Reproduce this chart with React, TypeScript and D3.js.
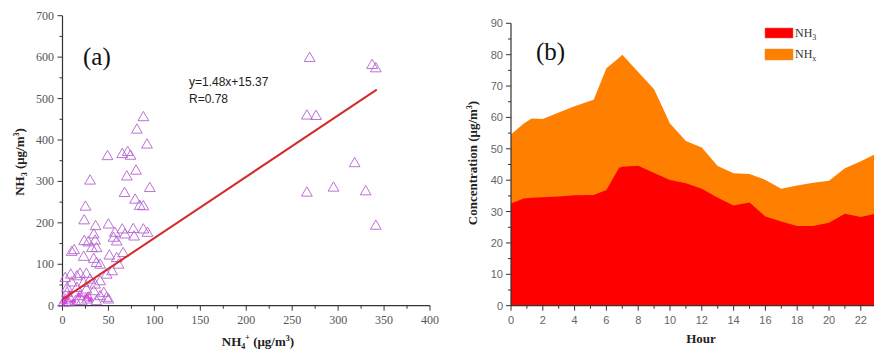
import React from "react";
import * as d3 from "d3";

// ---- Panel (a) data: NH4+ (x) vs NH3 (y)
const scatterX = [269, 337, 341, 266, 276, 318, 295, 266, 330, 341,
  88, 81, 92, 49, 65, 71, 74, 70, 80, 30, 95, 67.5, 79, 84, 88, 25, 23.6, 50, 36, 65, 77, 88, 92.5, 57, 68, 78, 55.5, 59, 34, 23.6, 28, 35.5, 32, 37, 10, 12.7, 66, 51, 59, 23, 34, 37, 61, 41, 54, 48, 9, 15.6, 26, 19, 3, 30, 41, 35.5, 23, 10, 5, 15.6, 26, 34, 45, 48, 41, 28, 19, 8, 3, 14, 5, 26.5, 50, 1, 6.5, 21, 37];
const scatterY = [597, 580, 572, 458, 457, 343, 284, 272, 275, 192,
  454, 424, 388, 360, 365, 370, 361, 311, 325, 301, 283, 271, 255, 240, 239, 238, 205, 195, 191, 183, 184, 183, 175, 175, 171, 166, 163, 154, 171, 155, 152, 156, 138, 138, 129, 133, 126, 120, 114, 117, 112, 102, 98, 98, 82, 74, 74, 70, 76, 76, 66, 62, 58, 50, 54, 55, 42, 42, 38, 34, 30, 18, 22, 19, 22, 18, 14, 10, 30, 14, 14, 6, 7, 10, 10];
const denseX = [26, 4.5, 12, 18, 8, 30, 2];
const denseY = [22, 18, 10, 25, 30, 15, 8];
const fitSlope = 1.48;
const fitIntercept = 15.37;
const fitRange = [0, 342];
const xTicksA = [0, 50, 100, 150, 200, 250, 300, 350, 400];
const yTicksA = [0, 100, 200, 300, 400, 500, 600, 700];

// ---- Panel (b) data: diurnal concentrations
const hours = [0, 0.8, 1.3, 2, 3, 4, 5, 5.2, 6, 6.8, 7, 8, 9, 10, 11, 12, 13, 14, 15, 16, 17, 18, 19, 20, 21, 22, 23];
const nhx = [54.6, 58.1, 59.7, 59.5, 61.6, 63.6, 65.3, 65.6, 75.7, 79.0, 80.0, 74.5, 69.0, 58.1, 52.5, 50.4, 44.5, 42.2, 42.0, 40.1, 37.3, 38.3, 39.2, 39.8, 43.8, 46.0, 48.5];
const nh3 = [32.6, 34.2, 34.4, 34.6, 34.8, 35.2, 35.3, 35.3, 36.9, 44.0, 44.3, 44.6, 42.3, 40.1, 39.0, 37.3, 34.4, 31.9, 32.9, 28.4, 26.8, 25.4, 25.4, 26.4, 29.3, 28.3, 29.4];
const xTicksB = [0, 2, 4, 6, 8, 10, 12, 14, 16, 18, 20, 22];
const yTicksB = [0, 10, 20, 30, 40, 50, 60, 70, 80, 90];

const serif = "'Liberation Serif', 'DejaVu Serif', serif";
const sans = "'Liberation Sans', Arial, sans-serif";

export default function App() {
  const xA = d3.scaleLinear().domain([0, 400]).range([62.5, 430]);
  const yA = d3.scaleLinear().domain([0, 700]).range([305.7, 15.7]);
  const xB = d3.scaleLinear().domain([0, 24]).range([511, 511 + 24 * 15.9]);
  const yB = d3.scaleLinear().domain([0, 90]).range([305.7, 23.3]);

  const tri = d3.symbol(d3.symbolTriangle, 50)();
  const areaTotal = d3.area<number>()
    .x((_, i) => xB(hours[i]))
    .y0(yB(0))
    .y1((d) => yB(d));

  const minorA_x = d3.range(0, 401, 25);
  const minorA_y = d3.range(0, 701, 50);
  const minorB_x = d3.range(0, 24, 1);
  const minorB_y = d3.range(0, 91, 5);

  const axisColor = "#333";

  return (
    <svg width={874} height={354} style={{ position: "absolute", left: 0, top: 0, background: "#fff" }}>
      <rect width={874} height={354} fill="#fff" />
      {/* ===== Panel (a) ===== */}
      <g>
        <line x1={xA(0)} x2={xA(400)} y1={yA(0)} y2={yA(0)} stroke={axisColor} strokeWidth={1.2} />
        <line x1={xA(0)} x2={xA(0)} y1={yA(0)} y2={yA(700)} stroke={axisColor} strokeWidth={1.2} />
        {minorA_x.map((t) => (
          <line key={"ax" + t} x1={xA(t)} x2={xA(t)} y1={yA(0)} y2={yA(0) + (t % 50 === 0 ? 5 : 3)} stroke={axisColor} strokeWidth={1} />
        ))}
        {minorA_y.map((t) => (
          <line key={"ay" + t} x1={xA(0)} x2={xA(0) - (t % 100 === 0 ? 5 : 3)} y1={yA(t)} y2={yA(t)} stroke={axisColor} strokeWidth={1} />
        ))}
        {xTicksA.map((t) => (
          <text key={"axl" + t} x={xA(t)} y={324} textAnchor="middle" fontFamily={serif} fontSize={12} fill="#555">{t}</text>
        ))}
        {yTicksA.map((t) => (
          <text key={"ayl" + t} x={54} y={yA(t) + 4} textAnchor="end" fontFamily={serif} fontSize={12} fill="#555">{t}</text>
        ))}
        <text x={258} y={346} textAnchor="middle" fontFamily={serif} fontSize={13} fontWeight="bold" fill="#222">
          NH<tspan fontSize={8} dy={3}>4</tspan><tspan fontSize={8} dy={-9}>+</tspan><tspan dy={6}> (μg/m</tspan><tspan fontSize={8} dy={-5}>3</tspan><tspan dy={5}>)</tspan>
        </text>
        <text transform="translate(24,162) rotate(-90)" textAnchor="middle" fontFamily={serif} fontSize={13} fontWeight="bold" fill="#222">
          NH<tspan fontSize={8} dy={3}>3</tspan><tspan dy={-3}> (μg/m</tspan><tspan fontSize={8} dy={-5}>3</tspan><tspan dy={5}>)</tspan>
        </text>
        <text x={83} y={65} fontFamily={serif} fontSize={25} fill="#111">(a)</text>
        {scatterX.map((x, i) => (
          <path key={"pt" + i} d={tri!} transform={`translate(${xA(x)},${yA(scatterY[i])})`} fill="none" stroke="#b463cf" strokeWidth={1} opacity={0.9} />
        ))}
        {denseX.map((x, i) => (
          <circle key={"dn" + i} cx={xA(x)} cy={yA(denseY[i])} r={2.5} fill="#e030e0" opacity={0.8} />
        ))}
        <line x1={xA(fitRange[0])} y1={yA(fitIntercept + fitSlope * fitRange[0])} x2={xA(fitRange[1])} y2={yA(fitIntercept + fitSlope * fitRange[1])} stroke="#d42a2a" strokeWidth={2} />
        <text x={189} y={86} fontFamily={sans} fontSize={12} fill="#222">y=1.48x+15.37</text>
        <text x={189} y={103} fontFamily={sans} fontSize={12} fill="#222">R=0.78</text>
      </g>

      {/* ===== Panel (b) ===== */}
      <g>
        <path d={areaTotal(nhx)!} fill="#ff8000" />
        <path d={areaTotal(nh3)!} fill="#ff0000" />
        <line x1={xB(0)} x2={874} y1={yB(0)} y2={yB(0)} stroke={axisColor} strokeWidth={1.2} />
        <line x1={xB(0)} x2={xB(0)} y1={yB(0)} y2={yB(90)} stroke={axisColor} strokeWidth={1.2} />
        {minorB_x.map((t) => (
          <line key={"bx" + t} x1={xB(t)} x2={xB(t)} y1={yB(0)} y2={yB(0) + (t % 2 === 0 ? 5 : 3)} stroke={axisColor} strokeWidth={1} />
        ))}
        {minorB_y.map((t) => (
          <line key={"by" + t} x1={xB(0)} x2={xB(0) - (t % 10 === 0 ? 5 : 3)} y1={yB(t)} y2={yB(t)} stroke={axisColor} strokeWidth={1} />
        ))}
        {xTicksB.map((t) => (
          <text key={"bxl" + t} x={xB(t)} y={324} textAnchor="middle" fontFamily={sans} fontSize={11} fill="#666">{t}</text>
        ))}
        {yTicksB.map((t) => (
          <text key={"byl" + t} x={503} y={yB(t) + 4} textAnchor="end" fontFamily={sans} fontSize={11} fill="#666">{t}</text>
        ))}
        <text x={701} y={343} textAnchor="middle" fontFamily={serif} fontSize={13} fontWeight="bold" fill="#222">Hour</text>
        <text transform="translate(477,163) rotate(-90)" textAnchor="middle" fontFamily={serif} fontSize={13} fontWeight="bold" fill="#222">
          Concentration (μg/m<tspan fontSize={8} dy={-5}>3</tspan><tspan dy={5}>)</tspan>
        </text>
        <text x={536} y={60} fontFamily={serif} fontSize={25} fill="#111">(b)</text>
        <rect x={765} y={28} width={28} height={10} fill="#ff0000" stroke="#e06060" strokeWidth={0.5} />
        <rect x={765} y={49} width={28} height={11} fill="#ff8000" stroke="#e09040" strokeWidth={0.5} />
        <text x={795} y={37} fontFamily={serif} fontSize={12} fill="#333">NH<tspan fontSize={8} dy={3}>3</tspan></text>
        <text x={795} y={58} fontFamily={serif} fontSize={12} fill="#333">NH<tspan fontSize={8} dy={3}>x</tspan></text>
      </g>
    </svg>
  );
}
